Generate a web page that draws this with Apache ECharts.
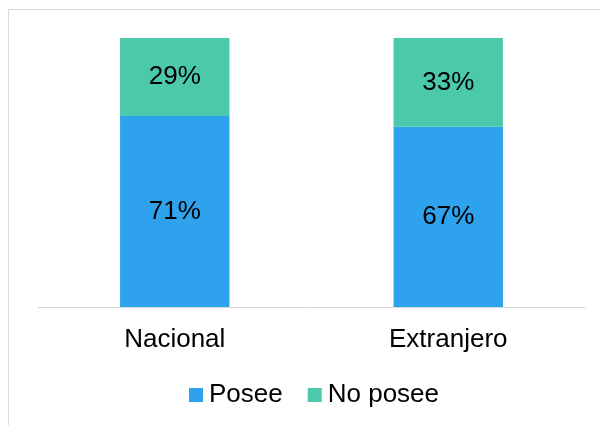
<!DOCTYPE html>
<html><head><meta charset="utf-8">
<script src="https://cdn.jsdelivr.net/npm/echarts@6/dist/echarts.min.js"></script>
<style>html,body{margin:0;padding:0;background:#fff}#c{width:600px;height:425px}</style>
</head><body><div id="c"></div>
<script>
const categories = ['Nacional', 'Extranjero'];
const posee = [71, 67];
const noPosee = [29, 33];
const seriesNames = ['Posee', 'No posee'];

const FONT = 'Liberation Sans, Arial, sans-serif';
const chart = echarts.init(document.getElementById('c'), null, {renderer: 'canvas'});
const lbl = {show: true, position: 'inside', formatter: p => p.value + '%', color: '#000', fontSize: 26, fontFamily: FONT};
chart.setOption({
  animation: false,
  graphic: [{type: 'rect', shape: {x: 8.5, y: 9.5, width: 620, height: 440}, style: {fill: 'none', stroke: '#d9d9d9', lineWidth: 1}, z: -1}],
  grid: {left: 38, right: 15, top: 38, bottom: 118},
  legend: {
    top: 382, left: 189, padding: 0, itemWidth: 14, itemHeight: 14, itemGap: 25,
    icon: 'rect',
    textStyle: {fontSize: 26, color: '#000', fontFamily: FONT, padding: [0, 0, 0, 1]},
    data: seriesNames
  },
  xAxis: {
    type: 'category', data: categories,
    axisLine: {lineStyle: {color: '#d9d9d9', width: 1}},
    axisTick: {show: false},
    axisLabel: {fontSize: 26, color: '#000', margin: 20, fontFamily: FONT}
  },
  yAxis: {type: 'value', min: 0, max: 100, show: false, splitLine: {show: false}},
  series: [
    {name: seriesNames[0], type: 'bar', stack: 's', data: posee, barWidth: '40%', itemStyle: {color: '#2EA2EC'}, label: lbl},
    {name: seriesNames[1], type: 'bar', stack: 's', data: noPosee, barWidth: '40%', itemStyle: {color: '#4CC9AB'}, label: lbl}
  ]
});
</script></body></html>
